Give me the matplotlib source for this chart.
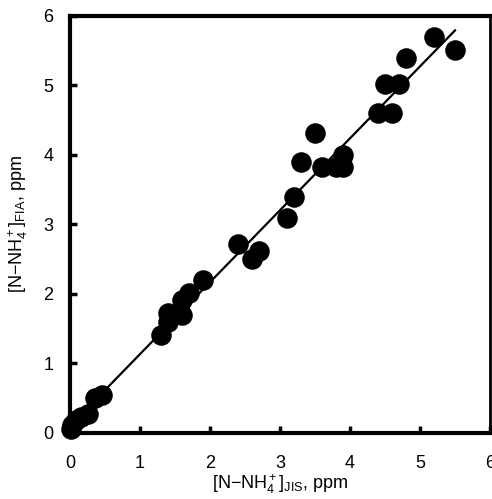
import matplotlib
matplotlib.use("Agg")
import matplotlib.pyplot as plt
import numpy as np

plt.rcParams['font.family'] = ['Liberation Sans', 'DejaVu Sans']
plt.rcParams['mathtext.fontset'] = 'custom'
plt.rcParams['mathtext.rm'] = 'Liberation Sans'
plt.rcParams['mathtext.it'] = 'Liberation Sans'

# JIS method vs FIA, ppm
jis = [0.02, 0.03, 0.08, 0.15, 0.25, 0.36, 0.45,
       1.3, 1.4, 1.4, 1.6, 1.6, 1.7, 1.9,
       2.4, 2.6, 2.7,
       3.1, 3.2, 3.3, 3.5, 3.6, 3.8, 3.9, 3.9,
       4.4, 4.5, 4.6, 4.7, 4.8, 5.2, 5.5]
fia = [0.06, 0.12, 0.18, 0.23, 0.28, 0.50, 0.55,
       1.41, 1.60, 1.72, 1.70, 1.92, 2.02, 2.20,
       2.72, 2.50, 2.62,
       3.10, 3.40, 3.90, 4.31, 3.82, 3.82, 3.82, 4.00,
       4.60, 5.02, 4.60, 5.02, 5.40, 5.70, 5.51]

fit_slope = 1.035
fit_icpt = 0.10
fit_range = [0.0, 5.5]
ticks = [0, 1, 2, 3, 4, 5, 6]

fig = plt.figure(figsize=(4.92, 4.99), dpi=100)
ax = fig.add_axes([0.1423, 0.1323, 0.8537, 0.8357])

ax.scatter(jis, fia, s=190, color='black', zorder=3, clip_on=False)
xl = np.array(fit_range)
ax.plot(xl, fit_slope * xl + fit_icpt, color='black', lw=1.6, zorder=2)

ax.set_xlim(0, 6)
ax.set_ylim(0, 6)
ax.set_xticks(ticks)
ax.set_yticks(ticks)
ax.tick_params(direction='in', length=5, width=2.5, labelsize=13)
ax.tick_params(axis='x', pad=16)
ax.tick_params(axis='y', pad=12)
for side in ['left', 'bottom', 'top']:
    ax.spines[side].set_linewidth(3)
ax.spines['right'].set_linewidth(2)

ax.set_xlabel('[N\u2212NH$_4^+$]$_{\\mathrm{JIS}}$, ppm', fontsize=13)
ax.xaxis.set_label_coords(0.5, -0.095)
ax.set_ylabel('[N\u2212NH$_4^+$]$_{\\mathrm{FIA}}$, ppm', fontsize=13)
ax.yaxis.set_label_coords(-0.095, 0.5)

fig.savefig('out.png', dpi=100)
